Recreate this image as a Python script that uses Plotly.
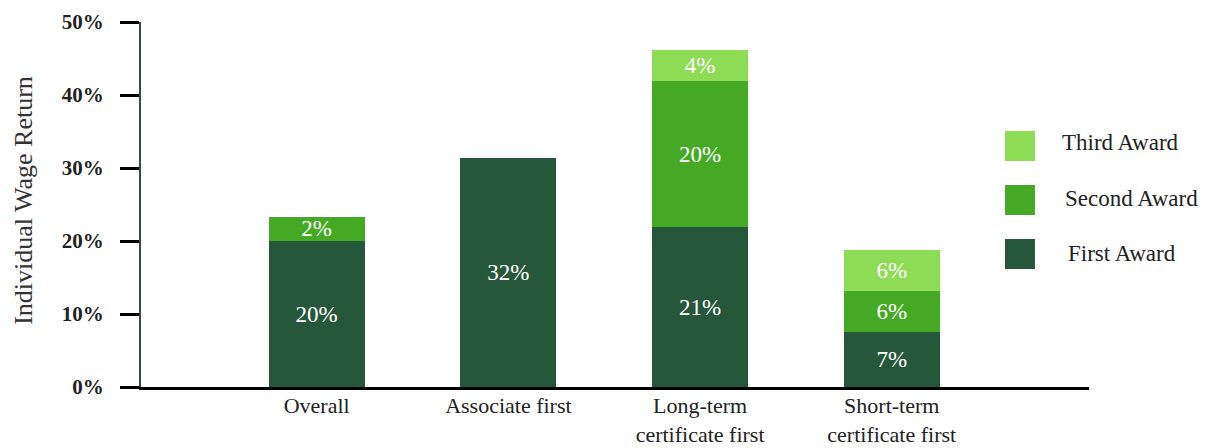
import plotly.graph_objects as go

categories = ["Overall", "Associate first", "Long-term<br>certificate first", "Short-term<br>certificate first"]
series_names = ["First Award", "Second Award", "Third Award"]
first_award = [20.0, 31.4, 21.9, 7.5]
second_award = [3.3, None, 20.0, 5.6]
third_award = [None, None, 4.2, 5.7]
first_labels = ["20%", "32%", "21%", "7%"]
second_labels = ["2%", "", "20%", "6%"]
third_labels = ["", "", "4%", "6%"]
y_ticks = [0, 10, 20, 30, 40, 50]

colors = ["#27573A", "#45A925", "#8EDB55"]
FONT = "Liberation Serif"

fig = go.Figure()
for name, vals, labels, col in zip(series_names,
                                   [first_award, second_award, third_award],
                                   [first_labels, second_labels, third_labels],
                                   colors):
    fig.add_trace(go.Bar(
        x=categories, y=vals, name=name, text=labels,
        textposition="inside", insidetextanchor="middle", textangle=0,
        textfont=dict(family=FONT, size=23, color="white"),
        insidetextfont=dict(family=FONT, size=23, color="white"),
        marker=dict(color=col, line=dict(width=0)),
        width=0.5, showlegend=False, hoverinfo="skip",
    ))

fig.update_layout(
    barmode="stack",
    width=1201, height=440,
    margin=dict(l=133, r=120, t=14, b=61, autoexpand=False),
    plot_bgcolor="white", paper_bgcolor="white",
    font=dict(family=FONT, color="#222222"),
    uniformtext=dict(minsize=23, mode="show"),
)
fig.update_xaxes(
    range=[-0.9166, 4.029], automargin=False,
    showline=True, linecolor="#000000", linewidth=3,
    ticks="", showgrid=False, zeroline=False,
    tickfont=dict(family=FONT, size=22, color="#222222"),
    ticklabelstandoff=-3,
)
fig.update_yaxes(
    range=[0, 50], automargin=False,
    tickvals=y_ticks, ticktext=[f"<b>{v}%</b>" for v in y_ticks],
    showline=True, linecolor="#3d4451", linewidth=2,
    ticks="outside", ticklen=19, tickwidth=3, tickcolor="#000000",
    showgrid=False, zeroline=False,
    tickfont=dict(family=FONT, size=21, color="#222222"),
    ticklabelstandoff=12,
)

# Y-axis title
fig.add_annotation(
    text="Individual Wage Return", xref="paper", yref="paper",
    x=-0.1234, y=0.51, xanchor="center", yanchor="middle", textangle=-90,
    showarrow=False, font=dict(family=FONT, size=26, color="#333333"),
)

# Custom legend (top to bottom: Third, Second, First)
legend_rows = [
    (2, 0.7014, 0.6192, 0.9694, 0.6685),
    (1, 0.5534, 0.4712, 0.9726, 0.5151),
    (0, 0.4055, 0.3233, 0.9757, 0.3671),
]
for idx, y_top, y_bot, tx, ty in legend_rows:
    fig.add_shape(type="rect", xref="paper", yref="paper",
                  x0=0.9114, x1=0.9430, y0=y_bot, y1=y_top,
                  fillcolor=colors[idx], line=dict(width=0))
    fig.add_annotation(text=series_names[idx], xref="paper", yref="paper",
                       x=tx, y=ty, xanchor="left", yanchor="middle",
                       showarrow=False,
                       font=dict(family=FONT, size=23, color="#222222"))

fig.write_html("out.html")
